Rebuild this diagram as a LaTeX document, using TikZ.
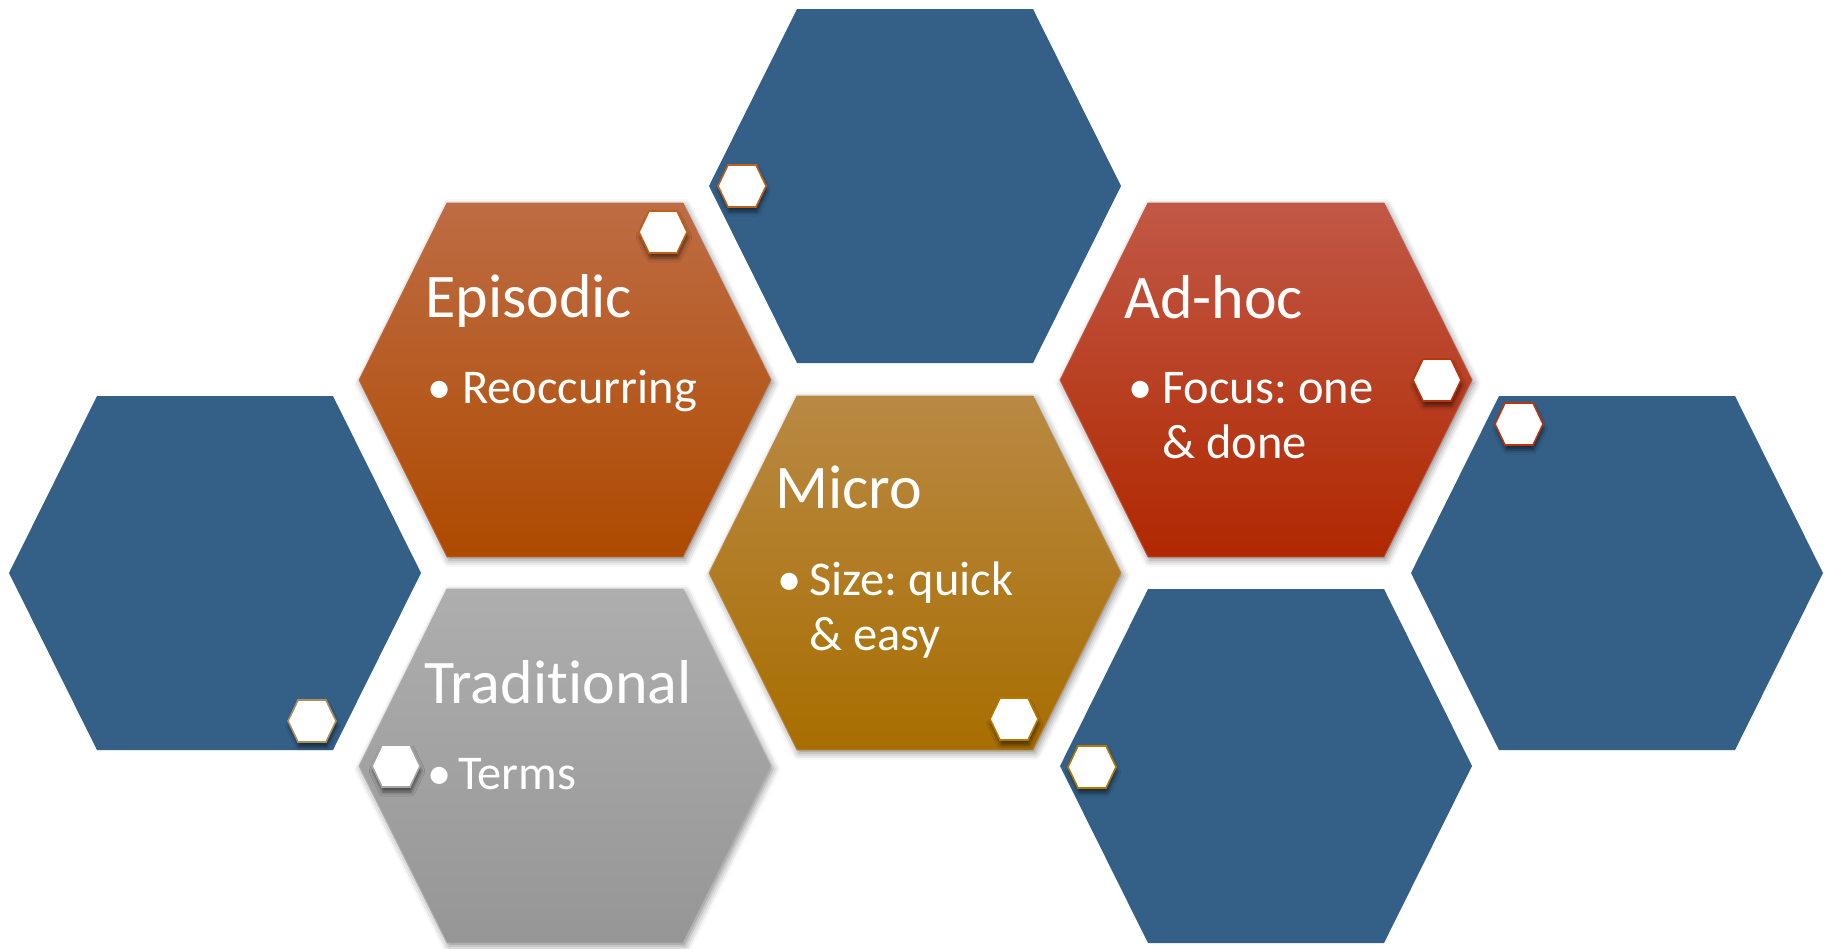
\documentclass[tikz,border=0pt]{standalone}
\usepackage{fontspec}
\setmainfont{Carlito}[Ligatures=NoCommon]
\usetikzlibrary{shadows.blur}
\frenchspacing

\definecolor{hexblue}{RGB}{52,96,136}
\definecolor{epiTop}{RGB}{190,108,68}
\definecolor{epiMid}{RGB}{184,82,6}
\definecolor{epiBot}{RGB}{174,74,0}
\definecolor{adTop}{RGB}{193,88,70}
\definecolor{adMid}{RGB}{186,50,6}
\definecolor{adBot}{RGB}{176,40,0}
\definecolor{miTop}{RGB}{185,137,68}
\definecolor{miMid}{RGB}{178,122,8}
\definecolor{miBot}{RGB}{168,110,0}
\definecolor{trTop}{RGB}{174,174,174}
\definecolor{trMid}{RGB}{162,162,162}
\definecolor{trBot}{RGB}{150,150,150}
\definecolor{rimOrange}{RGB}{192,96,26}
\definecolor{rimRed}{RGB}{184,54,10}
\definecolor{rimGold}{RGB}{180,122,0}
\definecolor{rimTan}{RGB}{168,144,96}
\definecolor{rimGrey}{RGB}{165,165,165}

% outline of a large and a small hexagon, centred on the origin
\newcommand\bighexshape{(-206,0) -- (-118,-177) -- (118,-177) -- (206,0) -- (118,177) -- (-118,177) -- cycle}
\newcommand\smallhexshape{(-24,0) -- (-14,-21) -- (14,-21) -- (24,0) -- (14,21) -- (-14,21) -- cycle}

\tikzset{
  bluehex/.style={fill=hexblue},
  colhex/.style n args={4}{top color=#1, middle color=#2, bottom color=#3, draw=#4, line width=0.8pt,
    blur shadow={shadow xshift=2pt, shadow yshift=-3pt, shadow blur radius=7pt, shadow opacity=45}},
  tinyhex/.style={fill=white, draw=#1, line width=1.6pt, line join=miter,
    blur shadow={shadow xshift=1pt, shadow yshift=-5pt, shadow blur radius=4pt, shadow opacity=55}},
  title/.style={text=white, inner sep=0pt, anchor=base west, font=\fontsize{62}{74}\selectfont},
  item/.style={text=white, inner sep=0pt, anchor=base west, font=\fontsize{48.5}{58}\selectfont},
}

\begin{document}
\begin{tikzpicture}[x=1pt, y=-1pt]
\useasboundingbox (0,0) rectangle (1833,948);

% cell centres
\coordinate (topblue)   at (915,186);
\coordinate (episodic)  at (565,380);
\coordinate (adhoc)     at (1266,380);
\coordinate (leftblue)  at (215,573);
\coordinate (micro)     at (915,573);
\coordinate (rightblue) at (1617,573);
\coordinate (traditional) at (565,766);
\coordinate (botblue)   at (1266,766);

% plain blue cells
\foreach \c in {topblue,leftblue,rightblue,botblue}
  \path[bluehex, shift={(\c)}] \bighexshape;

% coloured cells
\path[colhex={epiTop}{epiMid}{epiBot}{epiTop}, shift={(episodic)}] \bighexshape;
\path[colhex={adTop}{adMid}{adBot}{adTop}, shift={(adhoc)}] \bighexshape;
\path[colhex={miTop}{miMid}{miBot}{miTop}, shift={(micro)}] \bighexshape;
\path[colhex={trTop}{trMid}{trBot}{trTop}, shift={(traditional)}] \bighexshape;

% texts
\node[title] (episodic-t) at ([shift={(-140,-63)}]episodic) {Episodic};
\node[item]  (episodic-b) at ([shift={(-138,23)}]episodic) {•};
\node[item]  (episodic-i) at ([shift={(-103,23)}]episodic) {Reoccurring};

\node[title] (adhoc-t) at ([shift={(-142,-62)}]adhoc) {Ad-hoc};
\node[item]  (adhoc-b) at ([shift={(-138,23)}]adhoc) {•};
\node[item]  (adhoc-i) at ([shift={(-104,23)}]adhoc) {Focus: one};
\node[item]  (adhoc-j) at ([shift={(-104,78)}]adhoc) {\& done};

\node[title] (micro-t) at ([shift={(-140,-65)}]micro) {Micro};
\node[item]  (micro-b) at ([shift={(-138,22)}]micro) {•};
\node[item]  (micro-i) at ([shift={(-106,22)}]micro) {Size: quick};
\node[item]  (micro-j) at ([shift={(-106,77)}]micro) {\& easy};

\node[title] (trad-t) at ([shift={(-141,-63)}]traditional) {Traditional};
\node[item]  (trad-b) at ([shift={(-138,23)}]traditional) {•};
\node[item]  (trad-i) at ([shift={(-107,23)}]traditional) {Terms};

% small white markers
\coordinate (m1) at (742,186);
\coordinate (m2) at (663,232);
\coordinate (m3) at (1437,380);
\coordinate (m4) at (1519,424);
\coordinate (m5) at (312,721);
\coordinate (m6) at (396,766);
\coordinate (m7) at (1014,719);
\coordinate (m8) at (1092,767);
\path[tinyhex=rimOrange, shift={(m1)}] \smallhexshape;
\path[tinyhex=rimOrange, shift={(m2)}] \smallhexshape;
\path[tinyhex=rimRed,    shift={(m3)}] \smallhexshape;
\path[tinyhex=rimRed,    shift={(m4)}] \smallhexshape;
\path[tinyhex=rimTan,    shift={(m5)}] \smallhexshape;
\path[tinyhex=rimGrey,   shift={(m6)}] \smallhexshape;
\path[tinyhex=rimGold,   shift={(m7)}] \smallhexshape;
\path[tinyhex=rimGold,   shift={(m8)}] \smallhexshape;
\end{tikzpicture}
\end{document}
